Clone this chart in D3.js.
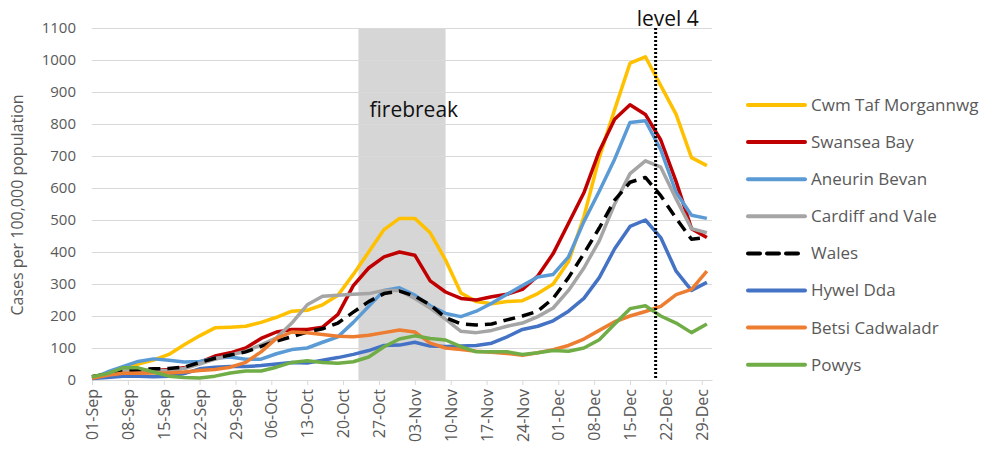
<!DOCTYPE html>
<html>
<head>
<meta charset="utf-8">
<style>
  body { margin: 0; background: #fff; font-family: "Open Sans", sans-serif; }
  svg { display: block; }
  .axis text { fill: #595959; font-size: 16px; font-family: "Open Sans", sans-serif; }
  .axis .domain { stroke: #d9d9d9; }
  .grid line { stroke: #d9d9d9; }
  .grid .domain { display: none; }
  .legend text { fill: #595959; font-size: 17px; }
  .note { fill: #111; font-size: 21px; }
</style>
</head>
<body>
<script src="https://cdn.jsdelivr.net/npm/d3@7"></script>
<script>

var dates = ["2020-09-01","2020-09-04","2020-09-07","2020-09-10","2020-09-13","2020-09-16",
  "2020-09-19","2020-09-22","2020-09-25","2020-09-28","2020-10-01","2020-10-04","2020-10-07",
  "2020-10-10","2020-10-13","2020-10-16","2020-10-19","2020-10-22","2020-10-25","2020-10-28",
  "2020-10-31","2020-11-03","2020-11-06","2020-11-09","2020-11-12","2020-11-15","2020-11-18",
  "2020-11-21","2020-11-24","2020-11-27","2020-11-30","2020-12-03","2020-12-06","2020-12-09",
  "2020-12-12","2020-12-15","2020-12-18","2020-12-21","2020-12-24","2020-12-27","2020-12-30"];

var cwmTaf    = [10,20,35,50,62,80,110,138,163,165,168,180,196,215,218,235,265,330,400,470,505,505,460,375,272,245,238,245,248,270,300,370,510,695,845,990,1010,920,830,695,670];
var swansea   = [10,15,22,28,30,33,38,55,75,85,100,130,150,158,158,165,205,295,350,385,400,390,310,275,255,250,260,268,283,325,395,490,585,715,815,860,830,750,620,473,445];
var aneurin   = [5,25,42,58,66,62,56,58,68,72,65,65,82,95,100,118,135,180,230,280,288,265,232,208,198,215,240,268,295,322,330,385,495,590,690,805,810,720,586,515,505];
var cardiff   = [10,18,28,32,30,30,36,50,65,78,90,110,132,178,235,262,265,268,270,280,280,255,225,190,152,148,155,168,178,198,225,280,350,435,550,645,685,665,566,473,460];
var wales     = [10,18,28,32,35,36,40,55,68,78,88,105,122,135,150,160,178,212,245,270,278,262,235,195,175,172,175,188,200,215,255,320,395,475,562,618,633,576,505,440,445];
var hywelDda  = [5,8,12,12,10,12,20,35,40,42,42,45,50,55,53,62,70,80,92,108,109,118,106,105,106,108,115,135,158,168,185,215,255,320,410,480,500,445,340,280,305];
var betsi     = [5,15,21,21,22,22,25,30,33,40,55,88,130,150,148,142,137,135,140,148,156,150,115,100,95,90,87,83,77,85,95,108,128,155,182,200,214,230,267,283,340];
var powys     = [10,20,38,38,25,12,8,6,12,22,28,28,40,55,60,55,52,57,72,104,128,138,130,125,104,88,88,88,80,85,92,90,100,126,175,223,232,200,178,148,175];

var seriesNames  = ["Cwm Taf Morgannwg","Swansea Bay","Aneurin Bevan","Cardiff and Vale","Wales","Hywel Dda","Betsi Cadwaladr","Powys"];
var seriesValues = [cwmTaf, swansea, aneurin, cardiff, wales, hywelDda, betsi, powys];
var seriesColors = ["#ffc000","#c00000","#5b9bd5","#a5a5a5","#000000","#4472c4","#ed7d31","#70ad47"];

var yTicks = [0,100,200,300,400,500,600,700,800,900,1000,1100];
var xTickLabels = ["01-Sep","08-Sep","15-Sep","22-Sep","29-Sep","06-Oct","13-Oct","20-Oct",
  "27-Oct","03-Nov","10-Nov","17-Nov","24-Nov","01-Dec","08-Dec","15-Dec","22-Dec","29-Dec"];

var firebreak = ["2020-10-23","2020-11-09"];
var level4 = "2020-12-20";

var width = 990, height = 450,
    marginLeft = 92, marginTop = 28, plotW = 620, plotH = 352;

var parseIso = d3.utcParse("%Y-%m-%d"),
    parseTick = d3.utcParse("%d-%b-%Y"),
    fmtTick = d3.utcFormat("%d-%b");

var x = d3.scaleUtc()
    .domain([parseIso("2020-09-01"), parseIso("2020-12-31")])
    .range([marginLeft, marginLeft + plotW]);
var y = d3.scaleLinear().domain([0, 1100]).range([marginTop + plotH, marginTop]);

var svg = d3.select("body").append("svg")
    .attr("width", width).attr("height", height);

// firebreak band
svg.append("rect")
    .attr("x", x(parseIso(firebreak[0])))
    .attr("width", x(parseIso(firebreak[1])) - x(parseIso(firebreak[0])))
    .attr("y", y(1100))
    .attr("height", y(0) - y(1100))
    .attr("fill", "#d6d6d6");

// gridlines + y labels
var yAxis = svg.append("g")
    .attr("class", "grid axis")
    .attr("transform", "translate(" + marginLeft + ",0)")
    .call(d3.axisLeft(y).tickValues(yTicks).tickFormat(d3.format("d"))
      .tickSize(-plotW).tickPadding(16));
yAxis.selectAll("text").style("font-size", "15px");

// x axis
var xAxis = svg.append("g")
    .attr("class", "axis")
    .attr("transform", "translate(0," + y(0) + ")")
    .call(d3.axisBottom(x)
      .tickValues(xTickLabels.map(function(d){ return parseTick(d + "-2020"); }))
      .tickFormat(fmtTick)
      .tickSize(5)
      .tickSizeOuter(0));
xAxis.selectAll(".tick line").attr("stroke", "#d9d9d9");
xAxis.selectAll("text")
    .attr("transform", "rotate(-90)")
    .attr("text-anchor", "end")
    .attr("x", -9)
    .attr("y", 0)
    .attr("dy", "0.35em");

// y axis title
svg.append("text")
    .attr("transform", "translate(23," + (marginTop + plotH / 2 + 1) + ") rotate(-90)")
    .attr("text-anchor", "middle")
    .attr("fill", "#595959")
    .style("font-size", "16px")
    .text("Cases per 100,000 population");

// lines
var line = d3.line()
    .x(function(d, i){ return x(parseIso(dates[i])); })
    .y(function(d){ return y(d); });

seriesValues.forEach(function(vals, i) {
  svg.append("path")
      .datum(vals)
      .attr("d", line)
      .attr("fill", "none")
      .attr("stroke", seriesColors[i])
      .attr("stroke-width", 3.5)
      .attr("stroke-linejoin", "round")
      .attr("stroke-dasharray", seriesNames[i] == "Wales" ? "12,7" : null);
});

// level 4 marker
svg.append("line")
    .attr("x1", x(parseIso(level4))).attr("x2", x(parseIso(level4)))
    .attr("y1", y(1100)).attr("y2", y(0) - 2)
    .attr("stroke", "#000")
    .attr("stroke-width", 3)
    .attr("stroke-dasharray", "2,2");

svg.append("text").attr("class", "note")
    .attr("x", x(parseIso(level4)) - 19).attr("y", 26)
    .text("level 4");

svg.append("text").attr("class", "note")
    .attr("x", x(parseIso(firebreak[0])) + 11).attr("y", 117)
    .text("firebreak");

// legend
var legend = svg.append("g").attr("class", "legend");
seriesNames.forEach(function(name, i) {
  var ly = 105 + i * 37.1;
  legend.append("line")
      .attr("x1", 748).attr("x2", 805)
      .attr("y1", ly).attr("y2", ly)
      .attr("stroke", seriesColors[i])
      .attr("stroke-width", 4)
      .attr("stroke-linecap", "round")
      .attr("stroke-dasharray", name == "Wales" ? "12,7" : null);
  legend.append("text")
      .attr("x", 811).attr("y", ly)
      .attr("dy", "0.35em")
      .text(name);
});

</script>
</body>
</html>
